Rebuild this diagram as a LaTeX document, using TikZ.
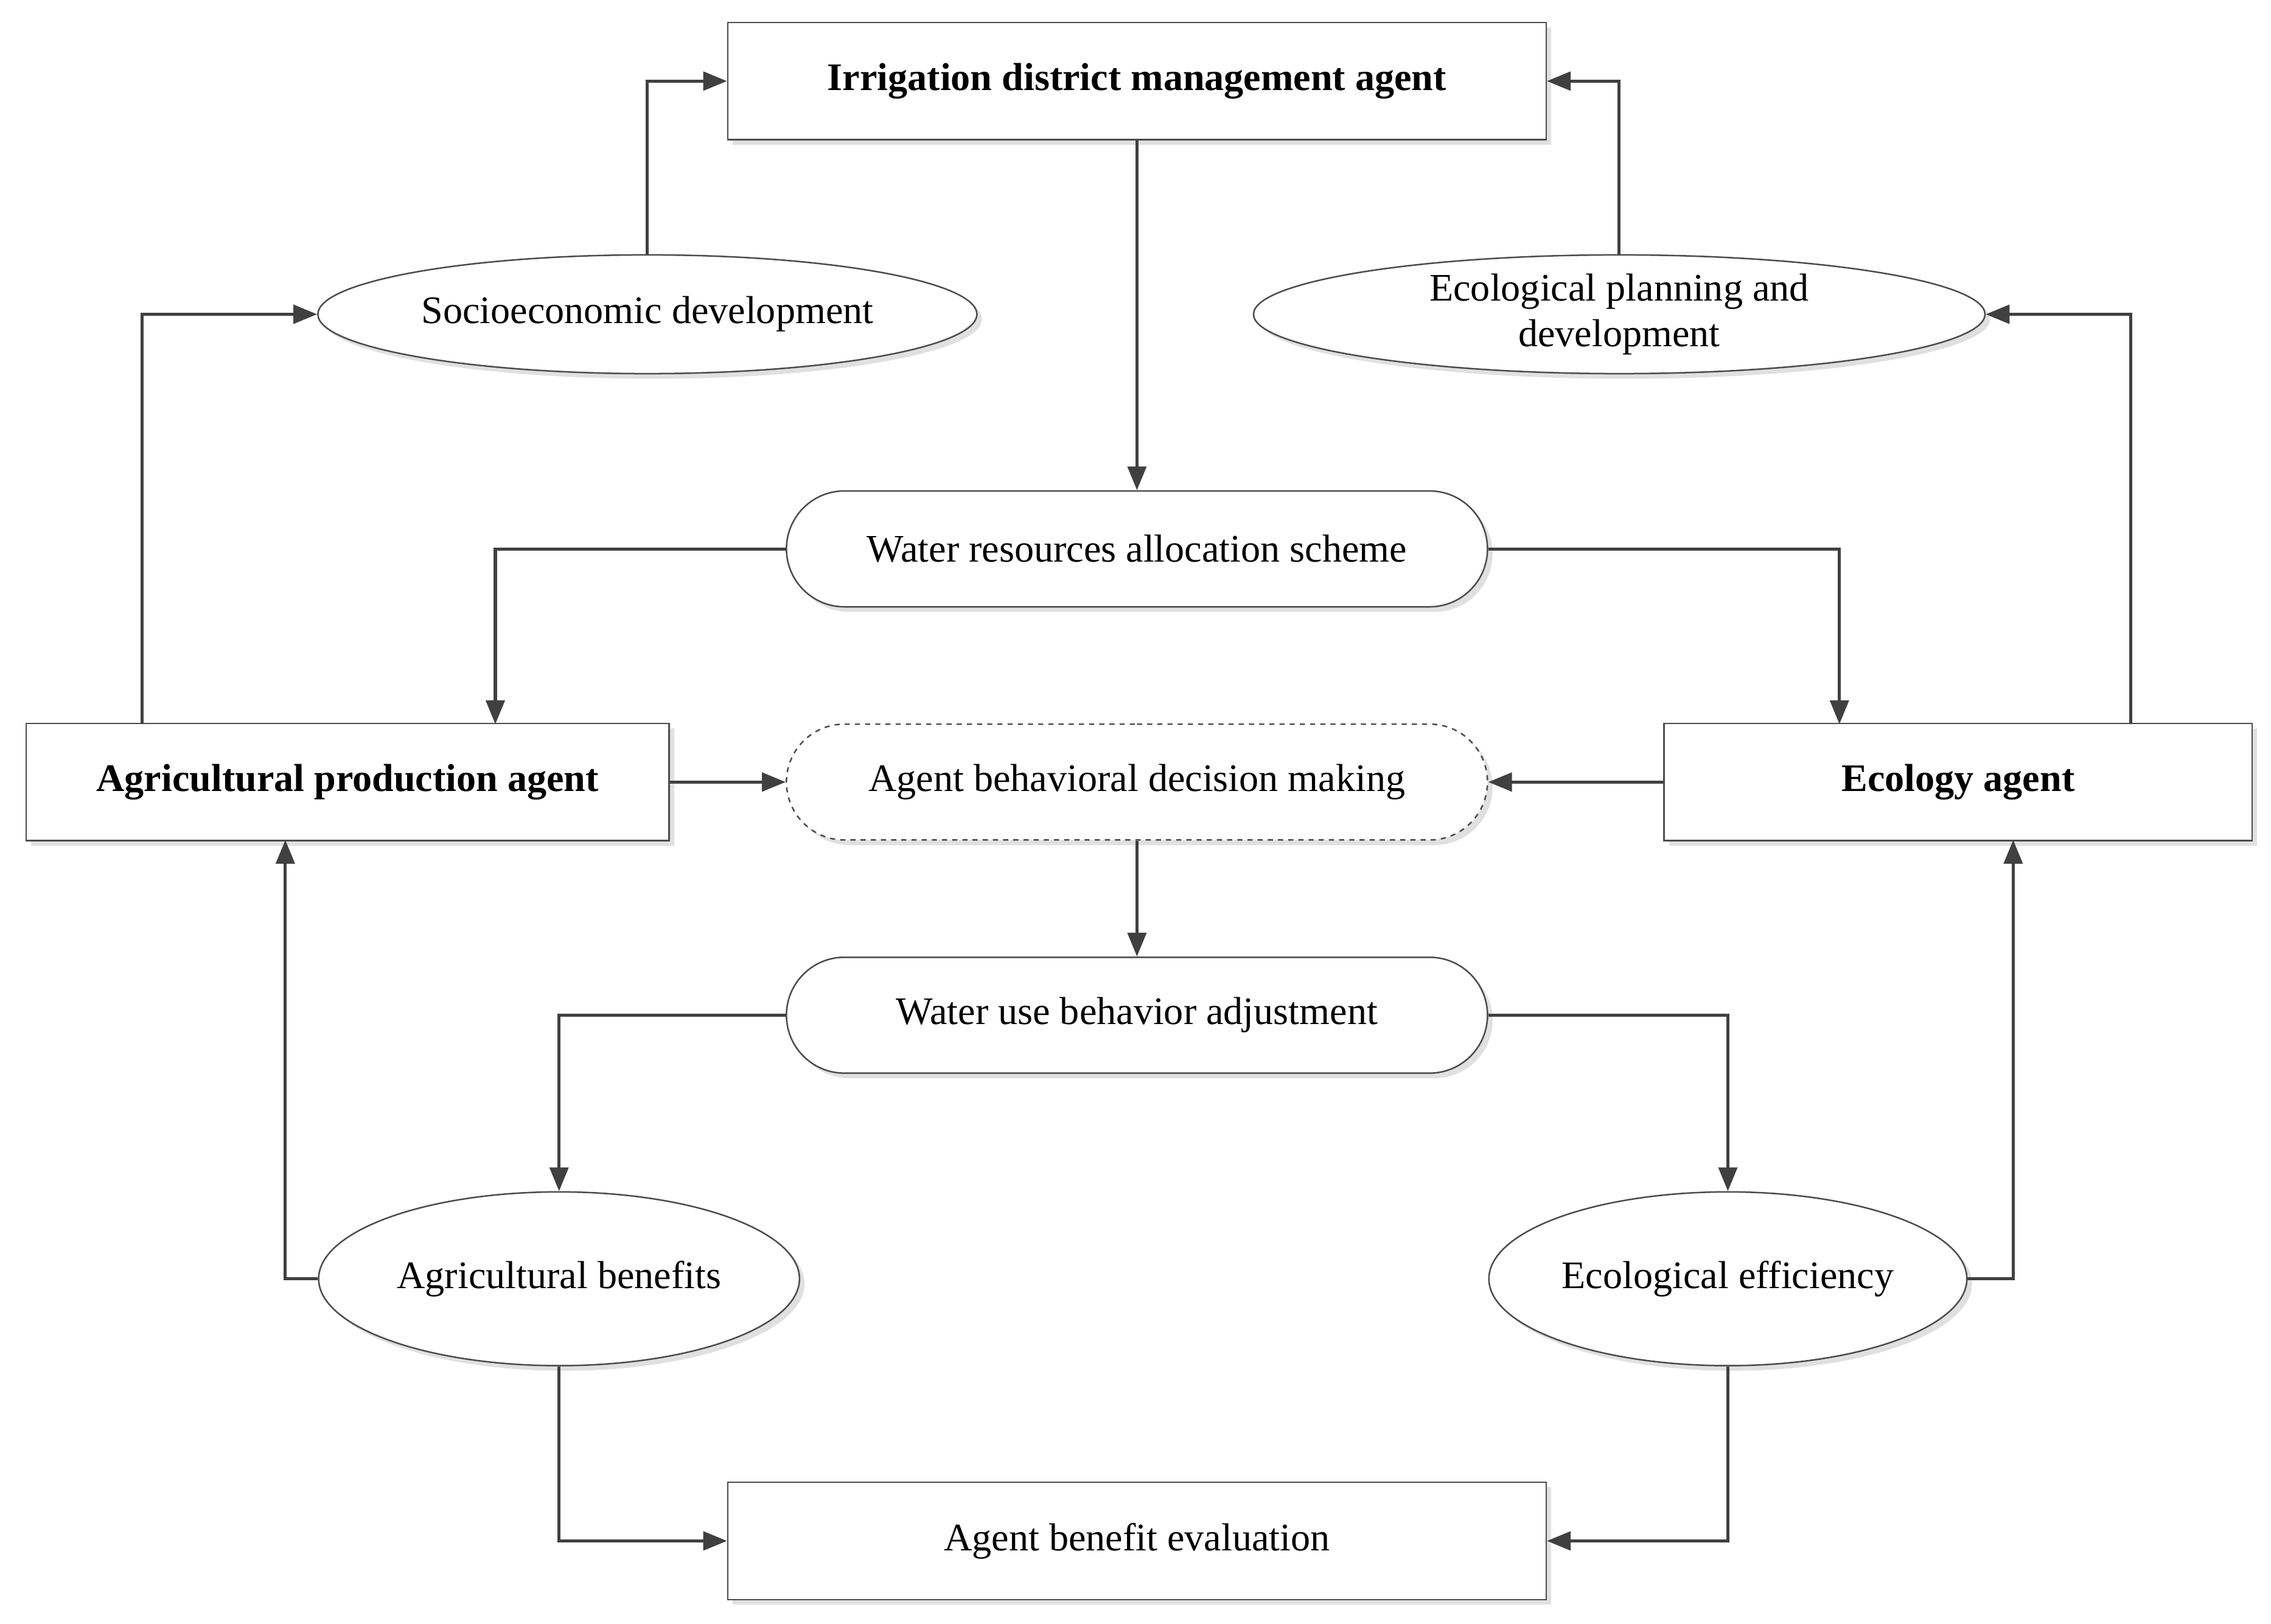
\documentclass[tikz,border=0pt]{standalone}
\usepackage{fontspec}
\setmainfont{Liberation Serif}
\usetikzlibrary{arrows.meta,shapes.geometric,shapes.misc,shadows}
\begin{document}
\begin{tikzpicture}[x=0.03cm,y=-0.03cm,
  base/.style={draw=black!70,line width=0.9pt,fill=white,font=\fontsize{23}{27}\selectfont,align=center,inner sep=0pt,
    drop shadow={shadow xshift=3pt,shadow yshift=-3pt,fill=black!12,opacity=1}},
  box/.style={base,rectangle,minimum height=2.43cm},
  ell/.style={base,ellipse},
  stad/.style={base,rounded rectangle,minimum width=14.52cm,minimum height=2.4cm},
  arr/.style={draw=black!75,line width=1.8pt,-{Triangle[length=14pt,width=11pt]}}]
\useasboundingbox (0,0) rectangle (1568,1121);
\node[box,minimum width=16.95cm,font=\fontsize{23}{27}\selectfont\bfseries] (irr) at (785,56) {Irrigation district management agent};
\node[ell,minimum width=13.65cm,minimum height=2.46cm] (soc) at (447,217) {Socioeconomic development};
\node[ell,minimum width=15.15cm,minimum height=2.46cm] (epd) at (1118,217) {Ecological planning and\\development};
\node[stad] (wr) at (785,379) {Water resources allocation scheme};
\node[box,minimum width=13.32cm,font=\fontsize{23}{27}\selectfont\bfseries] (agri) at (240,540) {Agricultural production agent};
\node[stad,dashed] (beh) at (785,540) {Agent behavioral decision making};
\node[box,minimum width=12.18cm,font=\fontsize{23}{27}\selectfont\bfseries] (eco) at (1352,540) {Ecology agent};
\node[stad] (wu) at (785,701) {Water use behavior adjustment};
\node[ell,minimum width=9.96cm,minimum height=3.6cm] (agb) at (386,883) {Agricultural benefits};
\node[ell,minimum width=9.9cm,minimum height=3.6cm] (eef) at (1193,883) {Ecological efficiency};
\node[box,minimum width=16.95cm] (ev) at (785,1064) {Agent benefit evaluation};
\coordinate (a1) at (98,500);
\coordinate (a2) at (342,500);
\coordinate (a3) at (197,580);
\coordinate (e1) at (1471,500);
\coordinate (e2) at (1270,500);
\coordinate (e3) at (1390,580);
\draw[arr] (soc.north) |- (irr.west);
\draw[arr] (a1) |- (soc.west);
\draw[arr] (epd.north) |- (irr.east);
\draw[arr] (e1) |- (epd.east);
\draw[arr] (irr.south) -- (wr.north);
\draw[arr] (wr.west) -| (a2);
\draw[arr] (wr.east) -| (e2);
\draw[arr] (agri.east) -- (beh.west);
\draw[arr] (eco.west) -- (beh.east);
\draw[arr] (beh.south) -- (wu.north);
\draw[arr] (wu.west) -| (agb.north);
\draw[arr] (wu.east) -| (eef.north);
\draw[arr] (agb.west) -| (a3);
\draw[arr] (eef.east) -| (e3);
\draw[arr] (agb.south) |- (ev.west);
\draw[arr] (eef.south) |- (ev.east);
\end{tikzpicture}
\end{document}
